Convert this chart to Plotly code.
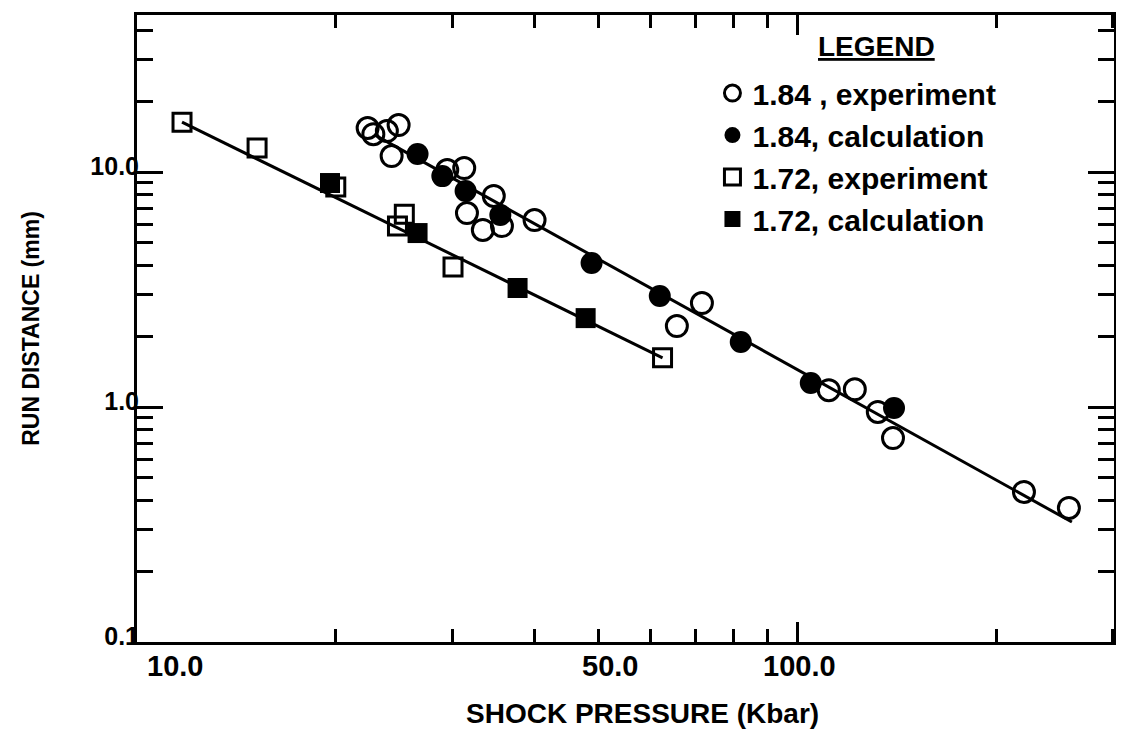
import math
import plotly.graph_objects as go

# ---------------- data ----------------
# density 1.84 g/cc, experiment (open circles)
X_184_EXP = [22.35, 22.8, 23.9, 24.9, 24.3, 29.5, 31.3, 34.7, 31.6, 33.4, 35.7, 40.0,
             65.7, 71.7, 111.6, 122.2, 132.4, 139.6, 220.4, 257.8]
Y_184_EXP = [15.4, 14.5, 14.95, 15.85, 11.7, 10.2, 10.4, 7.91, 6.69, 5.67, 5.89, 6.25,
             2.21, 2.77, 1.18, 1.19, 0.953, 0.738, 0.435, 0.372]
# density 1.84 g/cc, calculation (filled circles)
X_184_CALC = [26.6, 29.0, 31.45, 35.5, 48.8, 61.9, 82.1, 104.8, 140.1]
Y_184_CALC = [11.93, 9.61, 8.30, 6.56, 4.10, 2.97, 1.89, 1.265, 0.99]
# density 1.72 g/cc, experiment (open squares)
X_172_EXP = [11.7, 15.2, 20.0, 24.8, 25.4, 30.1, 62.5]
Y_172_EXP = [16.3, 12.65, 8.63, 5.89, 6.62, 3.94, 1.62]
# density 1.72 g/cc, calculation (filled squares)
X_172_CALC = [19.6, 26.6, 37.7, 47.8]
Y_172_CALC = [8.98, 5.50, 3.21, 2.39]
# fitted straight lines (end points)
LINE_184_X = [22.9, 260.5]
LINE_184_Y = [14.4, 0.324]
LINE_172_X = [11.7, 62.5]
LINE_172_Y = [16.3, 1.62]

# axes
X_RANGE = [10.0, 301.7]
Y_RANGE = [0.1, 46.6]
X_TICK_LABEL_AT = [11.4, 52.0, 100.9]
X_TICK_TEXT = ["10.0", "50.0", "100.0"]
X_MAJOR_TICKS = [100]
X_MINOR_TICKS = [20, 30, 40, 50, 60, 70, 80, 90, 200, 300]
Y_TICKS = [0.1, 1, 10]
Y_TICK_TEXT = ["0.1", "1.0", "10.0"]
Y_MINOR_TICKS = [0.2, 0.3, 0.4, 0.5, 0.6, 0.7, 0.8, 0.9,
                 2, 3, 4, 5, 6, 7, 8, 9, 20, 30, 40]

FONT = "Liberation Sans, Arial, Helvetica, sans-serif"
BLACK = "black"


def f(size, **kw):
    return dict(family=FONT, size=size, color=BLACK, weight="bold", **kw)


fig = go.Figure()

fig.add_trace(go.Scatter(x=LINE_184_X, y=LINE_184_Y, mode="lines",
                         line=dict(color=BLACK, width=3), showlegend=False,
                         hoverinfo="skip"))
fig.add_trace(go.Scatter(x=LINE_172_X, y=LINE_172_Y, mode="lines",
                         line=dict(color=BLACK, width=3), showlegend=False,
                         hoverinfo="skip"))

fig.add_trace(go.Scatter(x=X_184_EXP, y=Y_184_EXP, mode="markers",
                         name="1.84 , experiment",
                         marker=dict(symbol="circle-open", size=21, color=BLACK,
                                     line=dict(width=3, color=BLACK))))
fig.add_trace(go.Scatter(x=X_184_CALC, y=Y_184_CALC, mode="markers",
                         name="1.84, calculation",
                         marker=dict(symbol="circle", size=22, color=BLACK)))
fig.add_trace(go.Scatter(x=X_172_EXP, y=Y_172_EXP, mode="markers",
                         name="1.72, experiment",
                         marker=dict(symbol="square-open", size=18, color=BLACK,
                                     line=dict(width=3, color=BLACK))))
fig.add_trace(go.Scatter(x=X_172_CALC, y=Y_172_CALC, mode="markers",
                         name="1.72, calculation",
                         marker=dict(symbol="square", size=20, color=BLACK)))

xr = [math.log10(X_RANGE[0]), math.log10(X_RANGE[1])]
yr = [math.log10(Y_RANGE[0]), math.log10(Y_RANGE[1])]

# x tick labels (placed where the original drawing put them)
for pos, txt in zip(X_TICK_LABEL_AT, X_TICK_TEXT):
    fig.add_annotation(x=math.log10(pos), xref="x", y=0, yref="paper",
                       yanchor="top", xanchor="center", yshift=-6,
                       text=txt, showarrow=False, font=f(29))

# x axis title (the drawing centres it a little right of the plot centre)
fig.add_annotation(x=0.517, xref="paper", y=-0.1148, yref="paper",
                   xanchor="center", yanchor="middle",
                   text="SHOCK PRESSURE (Kbar)", showarrow=False, font=f(28))

# underlined legend heading
fig.add_annotation(x=0.7574, xref="paper", y=0.949, yref="paper",
                   xanchor="center", yanchor="middle", text="LEGEND",
                   showarrow=False, font=f(28, lineposition="under"))

fig.update_layout(
    template="none",
    width=1116, height=736, autosize=False,
    margin=dict(l=129, r=10, t=7, b=102, pad=0),
    paper_bgcolor="white", plot_bgcolor="white",
    font=f(28),
    showlegend=True,
    legend=dict(
        x=0.589, xanchor="left", y=0.917, yanchor="top",
        bgcolor="rgba(0,0,0,0)", borderwidth=0,
        font=f(30),
        tracegroupgap=0, itemwidth=30,
    ),
    xaxis=dict(
        type="log", range=xr, showgrid=False, zeroline=False, automargin=False,
        showline=True, linewidth=3, linecolor=BLACK, mirror="allticks",
        tickmode="array", tickvals=X_MAJOR_TICKS, ticktext=[""],
        ticks="inside", ticklen=20, tickwidth=3, tickcolor=BLACK,
        showticklabels=False,
        minor=dict(tickmode="array", tickvals=X_MINOR_TICKS, ticks="inside",
                   ticklen=13, tickwidth=3, tickcolor=BLACK, showgrid=False),
    ),
    yaxis=dict(
        type="log", range=yr, showgrid=False, zeroline=False, automargin=False,
        showline=True, linewidth=3, linecolor=BLACK, mirror="allticks",
        tickmode="array", tickvals=Y_TICKS, ticktext=Y_TICK_TEXT,
        ticks="inside", ticklen=26, tickwidth=3, tickcolor=BLACK,
        ticklabelstandoff=-10, ticklabelshift=-6,
        tickfont=f(25),
        minor=dict(tickmode="array", tickvals=Y_MINOR_TICKS, ticks="inside",
                   ticklen=16, tickwidth=3, tickcolor=BLACK, showgrid=False),
        title=dict(text="RUN DISTANCE (mm)", standoff=45, font=f(23)),
    ),
)

fig.write_html("out.html")
